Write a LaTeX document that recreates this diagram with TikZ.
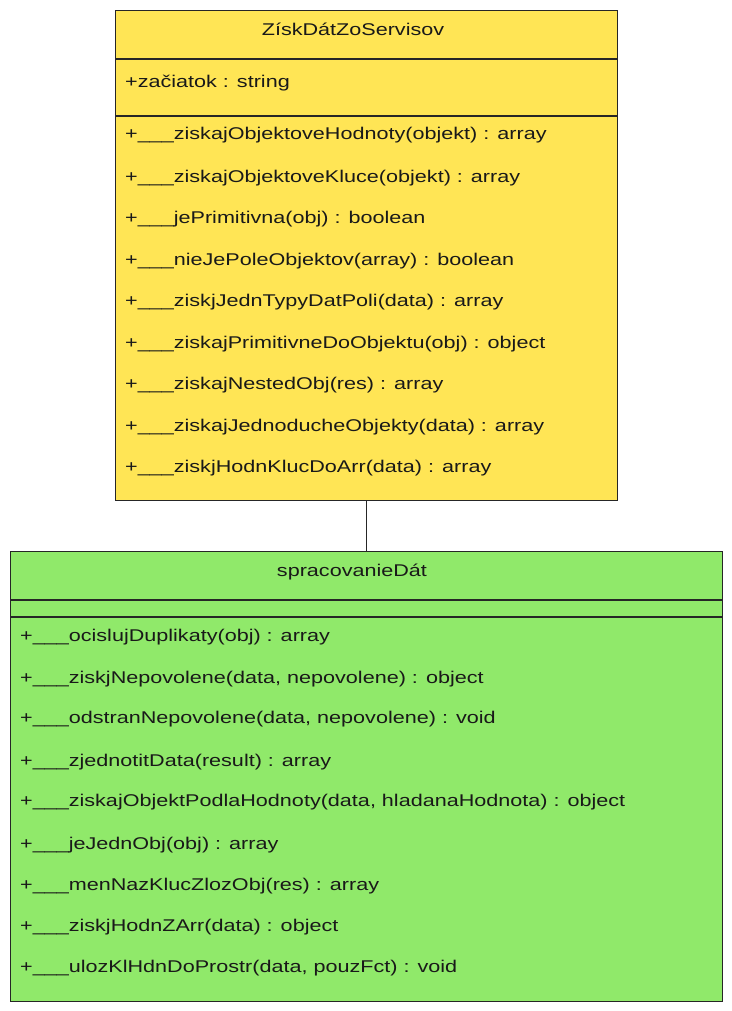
\documentclass[tikz,border=0pt]{standalone}
\usepackage{fontspec}
\setmainfont{Liberation Sans}
\newfontfamily\handfont{Liberation Sans}[FakeStretch=1.27]
\begin{document}
\begin{tikzpicture}[x=1pt,y=1pt,
  ybox/.style={draw=black!85, line width=1.3pt, fill=classyellow, rectangle, inner sep=0pt, anchor=north west},
  gbox/.style={draw=black!85, line width=1.3pt, fill=classgreen, rectangle, inner sep=0pt, anchor=north west},
  sep/.style={draw=black!85, line width=1.3pt},
  title/.style={font=\handfont\fontsize{17}{19}\selectfont, text=black!90, inner sep=0pt},
  member/.style={font=\handfont\fontsize{17}{19}\selectfont, text=black!90, inner sep=0pt, anchor=west},
  conn/.style={draw=black!85, line width=1.3pt}]
\definecolor{classyellow}{RGB}{255,229,85}
\definecolor{classgreen}{RGB}{144,233,106}
\useasboundingbox (0,0) rectangle (731,-1011);
\fill[white] (0,0) rectangle (731,-1011);
% top class
\node[ybox, minimum width=502pt, minimum height=490pt] (top) at (115,-10) {};
\draw[sep] (115,-59) coordinate (t1l) -- (617,-59) coordinate (t1r);
\draw[sep] (115,-116) coordinate (t2l) -- (617,-116) coordinate (t2r);
\node[title] (ttitle) at (353,-29) {ZískDátZoServisov};
\node[member] (ta) at (125,-83) {+začiatok : string};
\node[member] (tm1) at (125,-135) {+\_\_\_ziskajObjektoveHodnoty(objekt) : array};
\node[member] (tm2) at (125,-178) {+\_\_\_ziskajObjektoveKluce(objekt) : array};
\node[member] (tm3) at (125,-219) {+\_\_\_jePrimitivna(obj) : boolean};
\node[member] (tm4) at (125,-261) {+\_\_\_nieJePoleObjektov(array) : boolean};
\node[member] (tm5) at (125,-302) {+\_\_\_ziskjJednTypyDatPoli(data) : array};
\node[member] (tm6) at (125,-344) {+\_\_\_ziskajPrimitivneDoObjektu(obj) : object};
\node[member] (tm7) at (125,-385) {+\_\_\_ziskajNestedObj(res) : array};
\node[member] (tm8) at (125,-427) {+\_\_\_ziskajJednoducheObjekty(data) : array};
\node[member] (tm9) at (125,-468) {+\_\_\_ziskjHodnKlucDoArr(data) : array};
% bottom class
\node[gbox, minimum width=712pt, minimum height=450pt] (bot) at (10,-551) {};
\draw[sep] (10,-600) coordinate (b1l) -- (722,-600) coordinate (b1r);
\draw[sep] (10,-617) coordinate (b2l) -- (722,-617) coordinate (b2r);
\node[title] (btitle) at (352,-572) {spracovanieDát};
\node[member] (bm1) at (20,-637) {+\_\_\_ocislujDuplikaty(obj) : array};
\node[member] (bm2) at (20,-679) {+\_\_\_ziskjNepovolene(data, nepovolene) : object};
\node[member] (bm3) at (20,-719) {+\_\_\_odstranNepovolene(data, nepovolene) : void};
\node[member] (bm4) at (20,-762) {+\_\_\_zjednotitData(result) : array};
\node[member] (bm5) at (20,-802) {+\_\_\_ziskajObjektPodlaHodnoty(data, hladanaHodnota) : object};
\node[member] (bm6) at (20,-845) {+\_\_\_jeJednObj(obj) : array};
\node[member] (bm7) at (20,-886) {+\_\_\_menNazKlucZlozObj(res) : array};
\node[member] (bm8) at (20,-927) {+\_\_\_ziskjHodnZArr(data) : object};
\node[member] (bm9) at (20,-968) {+\_\_\_ulozKlHdnDoProstr(data, pouzFct) : void};
% connector
\draw[conn] (top.south) -- (bot.north);
\end{tikzpicture}
\end{document}
